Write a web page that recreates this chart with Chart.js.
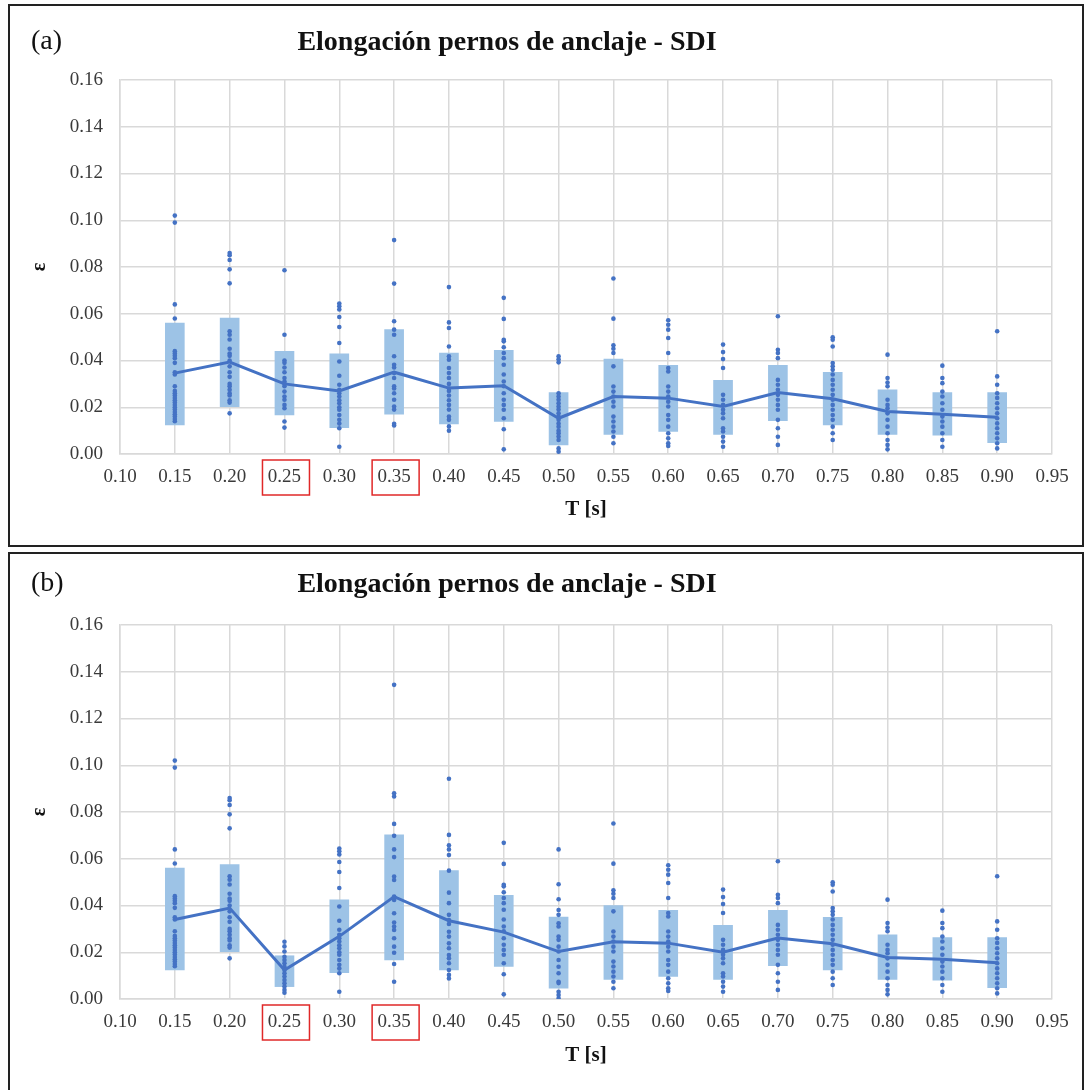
<!DOCTYPE html>
<html>
<head>
<meta charset="utf-8">
<script src="https://cdn.jsdelivr.net/npm/chart.js@4.4.0/dist/chart.umd.min.js"></script>
<style>
    body {
        margin: 0;
        width: 1086px;
        height: 1090px;
        overflow: hidden;
        position: relative;
        background: #fff;
        font-family: 'Liberation Serif', 'Times New Roman', serif;
    }
    .frame {
        position: absolute;
        left: 8px;
        width: 1076px;
        border: 2px solid #222;
        box-sizing: border-box;
    }
    #frameA { top: 4px; height: 543px; }
    #frameB { top: 552px; height: 545px; }
    canvas { position: absolute; }
    #chartA { left: 10px; top: 7px; }
    #chartB { left: 10px; top: 555px; }
    .tag {
        position: absolute;
        left: 31px;
        font-size: 28px;
        line-height: 28px;
        color: #111;
    }
    .title {
        position: absolute;
        left: 207px;
        width: 600px;
        text-align: center;
        font-size: 28px;
        line-height: 28px;
        font-weight: bold;
        color: #111;
    }
</style>
</head>
<body>
<div class="frame" id="frameA"></div>
<div class="frame" id="frameB"></div>
<canvas id="chartA" width="1073" height="537"></canvas>
<canvas id="chartB" width="1073" height="535"></canvas>
<div class="tag" style="top:26px">(a)</div>
<div class="title" style="top:27px">Elongación pernos de anclaje - SDI</div>
<div class="tag" style="top:568px">(b)</div>
<div class="title" style="top:569px">Elongación pernos de anclaje - SDI</div>

<script>
// periods T [s]
const tValues = [0.15, 0.20, 0.25, 0.30, 0.35, 0.40, 0.45, 0.50, 0.55, 0.60, 0.65, 0.70, 0.75, 0.80, 0.85, 0.90];
const xTicks = [0.10, 0.15, 0.20, 0.25, 0.30, 0.35, 0.40, 0.45, 0.50, 0.55, 0.60, 0.65, 0.70, 0.75, 0.80, 0.85, 0.90, 0.95];
const yTicks = [0.00, 0.02, 0.04, 0.06, 0.08, 0.10, 0.12, 0.14, 0.16];
const markedTicks = [0.25, 0.35];

// panel (a): band low / high and mean
const lowA  = [0.0124, 0.0203, 0.0167, 0.0113, 0.0170, 0.0129, 0.0139, 0.0039, 0.0084, 0.0097, 0.0084, 0.0143, 0.0124, 0.0084, 0.0081, 0.0049];
const highA = [0.0560, 0.0582, 0.0439, 0.0429, 0.0532, 0.0432, 0.0443, 0.0263, 0.0406, 0.0379, 0.0315, 0.0379, 0.0349, 0.0275, 0.0263, 0.0263];
const meanA = [0.0346, 0.0393, 0.0300, 0.0270, 0.0350, 0.0282, 0.0292, 0.0153, 0.0246, 0.0239, 0.0203, 0.0263, 0.0236, 0.0182, 0.0170, 0.0157];

// panel (b)
const lowB  = [0.0124, 0.0203, 0.0053, 0.0113, 0.0167, 0.0124, 0.0139, 0.0046, 0.0084, 0.0097, 0.0084, 0.0143, 0.0124, 0.0084, 0.0081, 0.0049];
const highB = [0.0560, 0.0575, 0.0185, 0.0424, 0.0702, 0.0549, 0.0443, 0.0350, 0.0400, 0.0379, 0.0315, 0.0379, 0.0349, 0.0275, 0.0263, 0.0263];
const meanB = [0.0340, 0.0389, 0.0124, 0.0268, 0.0438, 0.0335, 0.0286, 0.0203, 0.0245, 0.0239, 0.0200, 0.0261, 0.0236, 0.0178, 0.0170, 0.0155];

// individual records per period
const p015 = [0.102, 0.099, 0.064, 0.058, 0.044, 0.043, 0.042, 0.041, 0.039, 0.035, 0.034, 0.029, 0.027, 0.026, 0.025, 0.024, 0.023, 0.022, 0.021, 0.020, 0.019, 0.018, 0.017, 0.016, 0.015, 0.014];
const p020 = [0.086, 0.085, 0.083, 0.079, 0.073, 0.0525, 0.051, 0.049, 0.045, 0.043, 0.042, 0.040, 0.0375, 0.035, 0.033, 0.030, 0.029, 0.0275, 0.026, 0.025, 0.023, 0.022, 0.0174];
const p025A = [0.0786, 0.051, 0.040, 0.039, 0.037, 0.035, 0.0325, 0.031, 0.030, 0.029, 0.0267, 0.0246, 0.0232, 0.021, 0.0196, 0.0139, 0.0113];
const p025B = [0.0245, 0.0225, 0.0203, 0.0181, 0.0167, 0.0153, 0.0138, 0.0124, 0.011, 0.0096, 0.0081, 0.0067, 0.0053, 0.0039, 0.0027];
const p030 = [0.0644, 0.0632, 0.0618, 0.0586, 0.0543, 0.0475, 0.0396, 0.0335, 0.0296, 0.0275, 0.026, 0.0246, 0.023, 0.0217, 0.020, 0.0189, 0.0167, 0.0146, 0.013, 0.011, 0.0031];
const p035A = [0.0915, 0.0729, 0.0568, 0.0532, 0.051, 0.0418, 0.0382, 0.037, 0.0346, 0.0325, 0.029, 0.028, 0.026, 0.0232, 0.0203, 0.019, 0.0129, 0.0122];
const p035B = [0.1344, 0.088, 0.0866, 0.0749, 0.0698, 0.064, 0.0607, 0.0524, 0.0509, 0.0438, 0.0424, 0.0367, 0.0327, 0.031, 0.0295, 0.026, 0.0224, 0.0198, 0.015, 0.0074];
const p040A = [0.0714, 0.0563, 0.0539, 0.046, 0.0418, 0.0403, 0.0368, 0.0346, 0.0325, 0.030, 0.028, 0.027, 0.025, 0.023, 0.021, 0.019, 0.016, 0.0146, 0.0118, 0.010];
const p040B = [0.0942, 0.0702, 0.0658, 0.064, 0.0616, 0.0549, 0.0455, 0.041, 0.036, 0.0338, 0.0321, 0.0288, 0.0267, 0.0238, 0.0217, 0.0188, 0.0174, 0.0153, 0.0124, 0.0103, 0.0088];
const p045 = [0.0668, 0.0578, 0.0489, 0.0482, 0.0457, 0.0432, 0.041, 0.0382, 0.034, 0.031, 0.029, 0.026, 0.0232, 0.021, 0.0189, 0.0153, 0.0106, 0.002];
const p050A = [0.0418, 0.0405, 0.0392, 0.026, 0.0246, 0.0232, 0.0217, 0.0203, 0.019, 0.0174, 0.016, 0.0146, 0.013, 0.0117, 0.010, 0.0089, 0.0075, 0.006, 0.0024, 0.001];
const p050B = [0.064, 0.0491, 0.0427, 0.0381, 0.036, 0.0324, 0.031, 0.0267, 0.0253, 0.0224, 0.0203, 0.0167, 0.0138, 0.011, 0.0074, 0.0068, 0.0031, 0.0017, 0.0003];
const p055 = [0.0751, 0.0579, 0.0465, 0.045, 0.0432, 0.0375, 0.0289, 0.0267, 0.0246, 0.0224, 0.0203, 0.016, 0.0139, 0.0117, 0.0096, 0.0074, 0.0046];
const p060 = [0.0572, 0.0553, 0.0532, 0.0496, 0.0432, 0.0368, 0.0353, 0.0289, 0.0267, 0.0246, 0.0224, 0.0203, 0.0167, 0.0146, 0.0117, 0.0089, 0.0067, 0.0046, 0.0034];
const p065 = [0.0468, 0.0436, 0.0406, 0.0368, 0.0253, 0.0232, 0.021, 0.0189, 0.0174, 0.0153, 0.011, 0.0096, 0.0074, 0.0053, 0.0031];
const p070 = [0.0589, 0.0446, 0.0432, 0.041, 0.0317, 0.0296, 0.0275, 0.0253, 0.0232, 0.021, 0.0189, 0.0146, 0.011, 0.0074, 0.0039];
const p075 = [0.0499, 0.0489, 0.046, 0.0389, 0.0375, 0.036, 0.034, 0.0317, 0.0296, 0.0275, 0.0253, 0.0232, 0.021, 0.0189, 0.0167, 0.0146, 0.0117, 0.0089, 0.006];
const p080 = [0.0425, 0.0325, 0.0306, 0.029, 0.0232, 0.021, 0.0196, 0.0174, 0.0146, 0.0117, 0.0089, 0.006, 0.0039, 0.002];
const p085 = [0.0378, 0.0325, 0.0303, 0.0267, 0.0246, 0.0217, 0.0189, 0.016, 0.0139, 0.0117, 0.0089, 0.006, 0.0031];
const p090 = [0.0525, 0.0332, 0.0296, 0.026, 0.024, 0.0217, 0.0196, 0.0174, 0.0153, 0.0131, 0.011, 0.0089, 0.0067, 0.0046, 0.0024];

const pointsA = [p015, p020, p025A, p030, p035A, p040A, p045, p050A, p055, p060, p065, p070, p075, p080, p085, p090];
const pointsB = [p015, p020, p025B, p030, p035B, p040B, p045, p050B, p055, p060, p065, p070, p075, p080, p085, p090];

const BLUE = '#4472c4';
const LIGHT_BLUE = '#9dc3e6';
const GRID = '#d9d9d9';
const SERIF = "'Liberation Serif', 'Times New Roman', serif";

// red frames round two tick labels
const redBoxes = {
    id: 'redBoxes',
    afterDraw(chart) {
        const ctx = chart.ctx;
        const xScale = chart.scales.x;
        const bottom = chart.chartArea.bottom;
        ctx.save();
        ctx.strokeStyle = '#e02828';
        ctx.lineWidth = 1.5;
        markedTicks.forEach(t => {
            const px = xScale.getPixelForValue(t);
            ctx.strokeRect(px - 22, bottom + 6, 47, 35);
        });
        ctx.restore();
    }
};

function makeChart(canvasId, low, high, mean, points, padTop, xAxisHeight) {
    const barData = tValues.map((t, i) => ({ x: t, y: [low[i], high[i]] }));
    const meanData = tValues.map((t, i) => ({ x: t, y: mean[i] }));
    const dotData = [];
    tValues.forEach((t, i) => {
        points[i].forEach(v => dotData.push({ x: t, y: v }));
    });

    return new Chart(document.getElementById(canvasId), {
        type: 'bar',
        data: {
            datasets: [
                {
                    type: 'line',
                    data: meanData,
                    borderColor: BLUE,
                    borderWidth: 3,
                    pointRadius: 0,
                    order: 0
                },
                {
                    type: 'scatter',
                    data: dotData,
                    backgroundColor: BLUE,
                    borderColor: BLUE,
                    borderWidth: 0,
                    pointRadius: 2.3,
                    order: 1
                },
                {
                    type: 'bar',
                    data: barData,
                    backgroundColor: LIGHT_BLUE,
                    barThickness: 19,
                    grouped: false,
                    order: 2
                }
            ]
        },
        options: {
            responsive: false,
            animation: false,
            layout: {
                padding: { left: 0, top: padTop, right: 31, bottom: 0 }
            },
            plugins: {
                legend: { display: false },
                tooltip: { enabled: false }
            },
            scales: {
                x: {
                    type: 'linear',
                    min: 0.10,
                    max: 0.95,
                    offset: false,
                    afterBuildTicks: s => { s.ticks = xTicks.map(v => ({ value: v })); },
                    afterFit: s => {
                        s.height = xAxisHeight;
                        s.paddingLeft = 0;
                        s.paddingRight = 0;
                    },
                    ticks: {
                        callback: v => v.toFixed(2),
                        autoSkip: false,
                        maxRotation: 0,
                        padding: 12,
                        color: '#3a3a3a',
                        font: { family: SERIF, size: 19 }
                    },
                    grid: { color: GRID, lineWidth: 1.5, drawTicks: false, offset: false },
                    border: { display: true, color: GRID, width: 1.5 },
                    title: {
                        display: true,
                        text: 'T [s]',
                        color: '#111',
                        padding: { top: 0, bottom: 22 },
                        font: { family: SERIF, size: 21, weight: 'bold' }
                    }
                },
                y: {
                    min: 0,
                    max: 0.16,
                    afterBuildTicks: s => { s.ticks = yTicks.map(v => ({ value: v })); },
                    afterFit: s => {
                        s.width = 110;
                        s.paddingTop = 0;
                        s.paddingBottom = 0;
                    },
                    ticks: {
                        callback: v => v.toFixed(2),
                        padding: 17,
                        color: '#3a3a3a',
                        font: { family: SERIF, size: 19 }
                    },
                    grid: { color: GRID, lineWidth: 1.5, drawTicks: false },
                    border: { display: true, color: GRID, width: 1.5 },
                    title: {
                        display: true,
                        text: 'ε',
                        color: '#111',
                        padding: { top: 18, bottom: 0 },
                        font: { family: SERIF, size: 20, weight: 'bold' }
                    }
                }
            }
        },
        plugins: [redBoxes]
    });
}

makeChart('chartA', lowA, highA, meanA, pointsA, 73, 90);
makeChart('chartB', lowB, highB, meanB, pointsB, 70, 91);
</script>
</body>
</html>
